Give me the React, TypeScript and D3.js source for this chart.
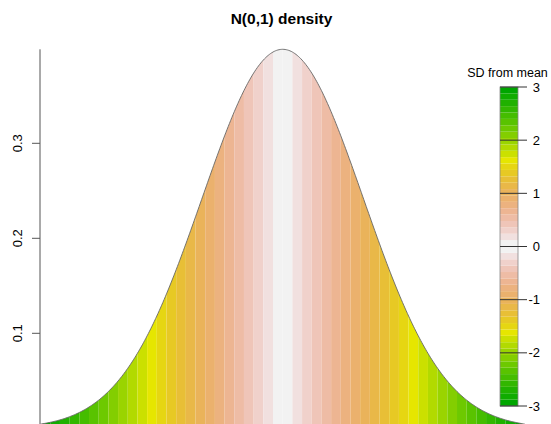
import React from "react";
import * as d3 from "d3";

// x break points (SD units) of the coloured strips
const breaks = [
  -3, -2.88, -2.76, -2.64, -2.52, -2.4, -2.28, -2.16, -2.04, -1.92, -1.8, -1.68, -1.56,
  -1.44, -1.32, -1.2, -1.08, -0.96, -0.84, -0.72, -0.6, -0.48, -0.36, -0.24, -0.12, 0,
  0.12, 0.24, 0.36, 0.48, 0.6, 0.72, 0.84, 0.96, 1.08, 1.2, 1.32, 1.44, 1.56, 1.68, 1.8,
  1.92, 2.04, 2.16, 2.28, 2.4, 2.52, 2.64, 2.76, 2.88, 3,
];
// terrain palette: outermost (|x|≈3) to centre (|x|≈0)
const palette = [
  "#00A600", "#10AC00", "#20B100", "#32B700", "#45BD00", "#59C300", "#6DC900",
  "#83CE00", "#9AD400", "#B2DA00", "#CBE000", "#E6E600", "#E6D612", "#E7C924",
  "#E8BF36", "#E9B848", "#EAB35A", "#EBB16D", "#ECB27F", "#EDB592", "#EEBCA5",
  "#EFC5B8", "#F0D1CB", "#F1E0DF", "#F2F2F2",
];
const yTicks = [0.1, 0.2, 0.3];
const legendTicks = [-3, -2, -1, 0, 1, 2, 3];
const title = "N(0,1) density";
const legendTitle = "SD from mean";

const dnorm = (x: number) => Math.exp(-(x * x) / 2) / Math.sqrt(2 * Math.PI);

const W = 551;
const H = 424;

export default function App() {
  const x = d3.scaleLinear().domain([-3, 3]).range([40.6, 524.8]);
  const y = d3.scaleLinear().domain([0, 0.3]).range([428.3, 143.3]);
  const n = breaks.length - 1;
  const colorOf = (i: number) => (i < n / 2 ? palette[i] : palette[n - 1 - i]);

  const area = d3
    .area<number>()
    .x((d) => x(d))
    .y0(y(0))
    .y1((d) => y(dnorm(d)));
  const line = d3
    .line<number>()
    .x((d) => x(d))
    .y((d) => y(dnorm(d)));

  const strips = d3.range(n).map((i) => {
    const a = breaks[i];
    const b = breaks[i + 1];
    const pts = d3.range(0, 9).map((k) => a + ((b - a) * k) / 8);
    return { d: area(pts) as string, fill: colorOf(i) };
  });
  const curvePts: number[] = [];
  for (let i = 0; i < n; i++) {
    for (let k = 0; k < 8; k++) curvePts.push(breaks[i] + ((breaks[i + 1] - breaks[i]) * k) / 8);
  }
  curvePts.push(breaks[n]);

  // legend
  const ly = d3.scaleLinear().domain([-3, 3]).range([406, 87]);
  const lx0 = 500;
  const lx1 = 518;

  const font = "'Liberation Sans', Arial, Helvetica, sans-serif";

  return (
    <svg
      width={W}
      height={H}
      style={{ position: "absolute", left: 0, top: 0, background: "#fff" }}
      fontFamily={font}
    >
      <rect width={W} height={H} fill="#fff" />
      <text x={281.5} y={24} textAnchor="middle" fontWeight="bold" fontSize={15.5}>
        {title}
      </text>
      {strips.map((s, i) => (
        <path key={i} d={s.d} fill={s.fill} />
      ))}
      <path d={line(curvePts) as string} fill="none" stroke="#666" strokeWidth={0.9} />

      {/* y axis */}
      <line x1={40} x2={40} y1={y(dnorm(0))} y2={H} stroke="#555" strokeWidth={1} />
      {yTicks.map((t) => (
        <g key={t} transform={`translate(0,${y(t)})`}>
          <line x1={32} x2={40} stroke="#555" strokeWidth={1} />
          <text
            transform={`translate(21.5,0) rotate(-90)`}
            textAnchor="middle"
            fontSize={13}
          >
            {t}
          </text>
        </g>
      ))}

      {/* legend */}
      <text x={507.5} y={77} textAnchor="middle" fontSize={12.5}>
        {legendTitle}
      </text>
      {d3.range(n).map((i) => (
        <rect
          key={i}
          x={lx0}
          width={lx1 - lx0}
          y={ly(breaks[i + 1])}
          height={ly(breaks[i]) - ly(breaks[i + 1])}
          fill={colorOf(i)}
        />
      ))}
      <rect
        x={lx0}
        y={ly(3)}
        width={lx1 - lx0}
        height={ly(-3) - ly(3)}
        fill="none"
        stroke="#888"
        strokeWidth={0.8}
      />
      {legendTicks.map((t) => (
        <g key={t} transform={`translate(0,${ly(t)})`}>
          <line x1={lx0} x2={527} stroke="#333" strokeWidth={1} />
          <text x={540} y={4.5} textAnchor="end" fontSize={13}>
            {t}
          </text>
        </g>
      ))}
    </svg>
  );
}
